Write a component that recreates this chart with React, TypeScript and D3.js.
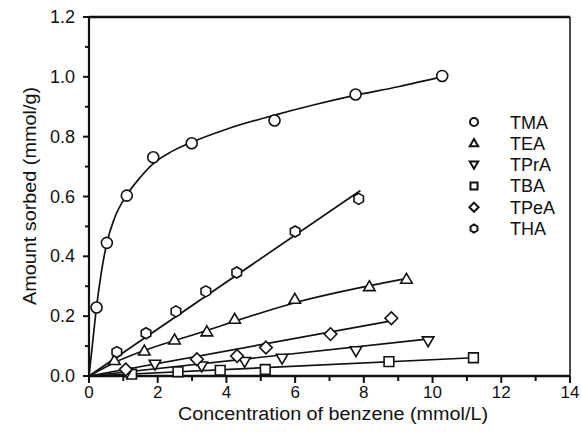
import React, { useEffect, useRef } from "react";
import * as d3 from "d3";

// axis ticks
const xTicks = [0, 2, 4, 6, 8, 10, 12, 14];
const yTicks = [0, 0.2, 0.4, 0.6, 0.8, 1.0, 1.2];

// TMA (curve)
const tmaX = [0.22, 0.52, 1.1, 1.87, 2.99, 5.4, 7.76, 10.28];
const tmaY = [0.229, 0.445, 0.603, 0.731, 0.778, 0.854, 0.941, 1.003];
const tmaFitX = [0, 0.1, 0.22, 0.35, 0.52, 0.75, 1.1, 1.5, 1.87, 2.4, 3.0, 4.0, 5.4, 6.5, 7.7, 9.0, 10.25];
const tmaFitY = [0, 0.105, 0.232, 0.34, 0.445, 0.53, 0.605, 0.665, 0.71, 0.75, 0.782, 0.825, 0.872, 0.905, 0.937, 0.967, 1.0];

// TEA
const teaX = [0.74, 1.61, 2.49, 3.43, 4.24, 5.99, 8.16, 9.24];
const teaY = [0.052, 0.084, 0.121, 0.148, 0.19, 0.257, 0.299, 0.324];
const teaLineX = [0, 0.75, 3.43, 6.0, 9.3];
const teaLineY = [0, 0.045, 0.152, 0.245, 0.327];

// TPrA
const tpraX = [1.1, 1.92, 3.28, 4.53, 5.62, 7.77, 9.87];
const tpraY = [0.012, 0.039, 0.033, 0.048, 0.059, 0.084, 0.117];
const tpraLineX = [0, 9.9];
const tpraLineY = [0, 0.124];

// TBA
const tbaX = [1.24, 2.59, 3.82, 5.13, 8.73, 11.19];
const tbaY = [0.006, 0.014, 0.019, 0.022, 0.048, 0.061];
const tbaLineX = [0, 11.2];
const tbaLineY = [0, 0.061];

// TPeA
const tpeaX = [1.07, 3.14, 4.31, 5.15, 7.03, 8.8];
const tpeaY = [0.022, 0.056, 0.067, 0.095, 0.14, 0.193];
const tpeaLineX = [0, 8.8];
const tpeaLineY = [0, 0.184];

// THA
const thaX = [0.81, 1.66, 2.53, 3.4, 4.3, 6.0, 7.85];
const thaY = [0.08, 0.143, 0.216, 0.283, 0.346, 0.483, 0.592];
const thaLineX = [0, 7.9];
const thaLineY = [0, 0.62];

const legendNames = ["TMA", "TEA", "TPrA", "TBA", "TPeA", "THA"];
const legendShapes = ["circle", "up", "down", "square", "diamond", "hexagon"];

const FONT = "'Liberation Sans', Arial, sans-serif";

function shapePath(shape: string, r: number) {
  if (shape === "circle") {
    return d3.arc()({ innerRadius: 0, outerRadius: r, startAngle: 0, endAngle: 2 * Math.PI } as any) as string;
  }
  let pts: number[][] = [];
  if (shape === "up") pts = [[0, -r * 1.05], [r * 1.05, r * 0.75], [-r * 1.05, r * 0.75]];
  if (shape === "down") pts = [[0, r * 1.05], [r * 1.05, -r * 0.75], [-r * 1.05, -r * 0.75]];
  if (shape === "square") {
    const s = r * 0.88;
    pts = [[-s, -s], [s, -s], [s, s], [-s, s]];
  }
  if (shape === "diamond") pts = [[0, -r * 1.15], [r * 1.15, 0], [0, r * 1.15], [-r * 1.15, 0]];
  if (shape === "hexagon") {
    pts = d3.range(6).map((i) => {
      const a = (Math.PI / 3) * i + Math.PI / 6;
      return [r * Math.cos(a), r * Math.sin(a)];
    });
  }
  return "M" + pts.map((p) => p.join(",")).join("L") + "Z";
}

function App() {
  const ref = useRef<SVGSVGElement>(null);

  useEffect(() => {
    const svg = d3.select(ref.current);
    svg.selectAll("*").remove();

    const left = 89,
      right = 570,
      top = 17,
      bottom = 376;

    const x = d3.scaleLinear().domain([0, 14]).range([left, right]);
    const y = d3.scaleLinear().domain([0, 1.2]).range([bottom, top]);

    // frame (top and right)
    svg.append("line").attr("x1", left).attr("x2", right).attr("y1", top).attr("y2", top)
      .attr("stroke", "#111").attr("stroke-width", 2.5);
    svg.append("line").attr("x1", right).attr("x2", right).attr("y1", top).attr("y2", bottom)
      .attr("stroke", "#111").attr("stroke-width", 1.5);

    // y axis
    const yAxis = svg.append("g").attr("transform", "translate(" + left + ",0)");
    yAxis.append("line").attr("y1", top).attr("y2", bottom).attr("stroke", "#111").attr("stroke-width", 2.2);
    d3.range(0, 13).forEach((i) => {
      const v = i / 10;
      yAxis.append("line").attr("x1", i % 2 === 0 ? -6 : -4).attr("x2", 0)
        .attr("y1", y(v)).attr("y2", y(v)).attr("stroke", "#111").attr("stroke-width", 2);
    });
    yAxis.selectAll("text.tick").data(yTicks).enter().append("text")
      .attr("x", -14).attr("y", (d) => y(d) + 6)
      .attr("text-anchor", "end").attr("font-family", FONT).attr("font-size", 18).attr("fill", "#111")
      .text((d) => d3.format(".1f")(d));

    // x axis
    const xAxis = svg.append("g").attr("transform", "translate(0," + bottom + ")");
    xAxis.append("line").attr("x1", left).attr("x2", right).attr("stroke", "#111").attr("stroke-width", 2.5);
    d3.range(0, 15).forEach((v) => {
      xAxis.append("line").attr("x1", x(v)).attr("x2", x(v)).attr("y1", 0).attr("y2", v % 2 === 0 ? 7 : 5)
        .attr("stroke", "#111").attr("stroke-width", 2);
    });
    xAxis.selectAll("text.tick").data(xTicks).enter().append("text")
      .attr("x", (d) => x(d)).attr("y", 22)
      .attr("text-anchor", "middle").attr("font-family", FONT).attr("font-size", 17).attr("fill", "#111")
      .text((d) => d);

    // titles
    svg.append("text").attr("x", 333).attr("y", 420)
      .attr("text-anchor", "middle").attr("font-family", FONT).attr("font-size", 18).attr("fill", "#111")
      .attr("textLength", 310).attr("lengthAdjust", "spacingAndGlyphs")
      .text("Concentration of benzene (mmol/L)");
    svg.append("text").attr("transform", "translate(36,196) rotate(-90)")
      .attr("text-anchor", "middle").attr("font-family", FONT).attr("font-size", 18).attr("fill", "#111")
      .attr("textLength", 218).attr("lengthAdjust", "spacingAndGlyphs")
      .text("Amount sorbed (mmol/g)");

    const drawLine = (xs: number[], ys: number[], curved: boolean) => {
      const gen = d3.line<number>()
        .x((d) => x(xs[d]))
        .y((d) => y(ys[d]))
        .curve(curved ? d3.curveMonotoneX : d3.curveLinear);
      svg.append("path").attr("d", gen(d3.range(xs.length)) as string)
        .attr("fill", "none").attr("stroke", "#111").attr("stroke-width", 1.7);
    };

    drawLine(tmaFitX, tmaFitY, true);
    drawLine(thaLineX, thaLineY, false);
    drawLine(teaLineX, teaLineY, true);
    drawLine(tpeaLineX, tpeaLineY, false);
    drawLine(tpraLineX, tpraLineY, false);
    drawLine(tbaLineX, tbaLineY, false);

    const drawPoints = (xs: number[], ys: number[], shape: string) => {
      svg.append("g").selectAll("path").data(d3.range(xs.length)).enter().append("path")
        .attr("transform", (i) => "translate(" + x(xs[i]) + "," + y(ys[i]) + ")")
        .attr("d", shapePath(shape, 5.5))
        .attr("fill", "white").attr("stroke", "#111").attr("stroke-width", 1.6);
    };

    drawPoints(tbaX, tbaY, "square");
    drawPoints(tpraX, tpraY, "down");
    drawPoints(tpeaX, tpeaY, "diamond");
    drawPoints(teaX, teaY, "up");
    drawPoints(thaX, thaY, "hexagon");
    drawPoints(tmaX, tmaY, "circle");

    // legend
    const legend = svg.append("g").attr("transform", "translate(474,122)");
    legendNames.forEach((name, i) => {
      const row = legend.append("g").attr("transform", "translate(0," + i * 21.3 + ")");
      row.append("path").attr("d", shapePath(legendShapes[i], 4))
        .attr("fill", "white").attr("stroke", "#111").attr("stroke-width", 2);
      row.append("text").attr("x", 36).attr("y", 6.5)
        .attr("font-family", FONT).attr("font-size", 18).attr("fill", "#111")
        .text(name);
    });
  }, []);

  return (
    <svg
      ref={ref}
      width={581}
      height={441}
      style={{ position: "absolute", left: 0, top: 0, background: "white" }}
    />
  );
}

export default App;
